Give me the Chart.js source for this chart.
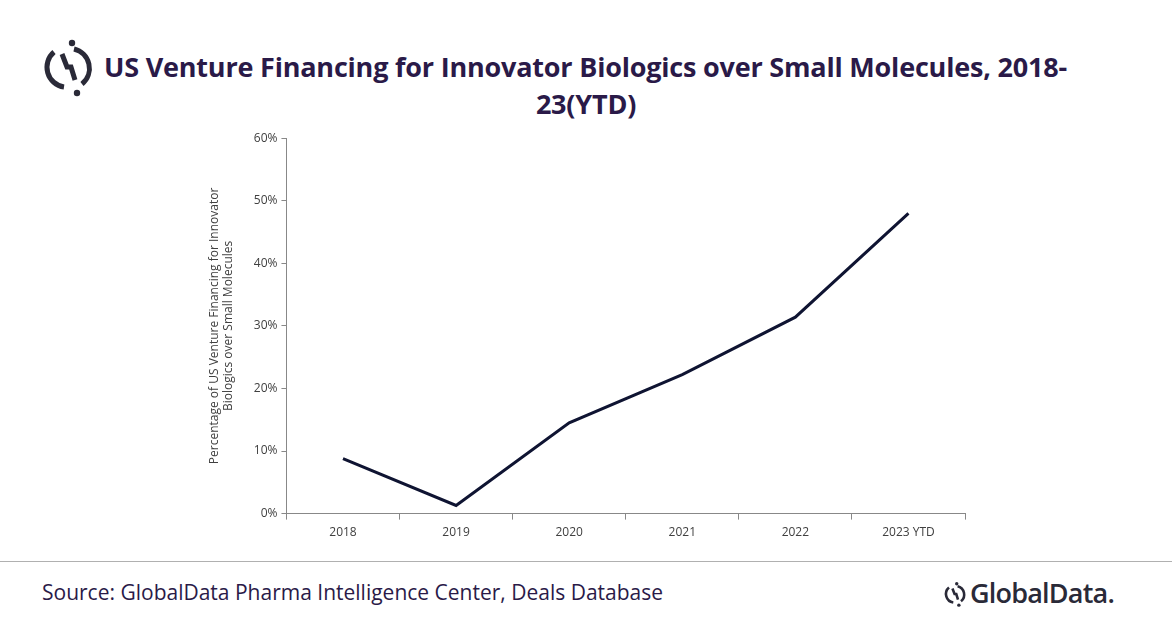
<!DOCTYPE html>
<html>
<head>
<meta charset="utf-8">
<script src="https://cdn.jsdelivr.net/npm/chart.js@4"></script>
<style>
  body { margin: 0; width: 1172px; height: 628px; background: #fff; position: relative; overflow: hidden; font-family: "Open Sans", sans-serif; }
  #title { position: absolute; left: 96px; top: 48px; width: 980px; text-align: center; font-weight: 700; font-size: 27px; line-height: 37px; color: #2a1a48; letter-spacing: -0.2px; }
  #title .l1 { display: block; text-align: left; padding-left: 8px; }
  #logo { position: absolute; left: 40px; top: 36px; }
  #wrap { position: absolute; left: 193px; top: 127px; width: 782px; height: 419px; }
  #rule { position: absolute; left: 0; top: 561px; width: 1172px; height: 1px; background: #b0b0b0; }
  #source { position: absolute; left: 42px; top: 578px; font-size: 21px; color: #2a1a48; }
  #brand { position: absolute; left: 943px; top: 574px; font-size: 27px; font-weight: 600; color: #2a2a38; letter-spacing: -0.8px; }
  #brand svg { vertical-align: middle; margin-right: 3px; margin-top: -4px; }
</style>
</head>
<body>
<svg id="logo" width="56" height="62" viewBox="0 0 56 62">
  <circle cx="32" cy="7" r="3.2" fill="#2a2a38"/>
  <circle cx="37" cy="57" r="3.2" fill="#2a2a38"/>
  <path d="M14 16 A20 20 0 0 0 24 51" stroke="#2a2a38" stroke-width="5" fill="none"/>
  <path d="M34 13 A20 20 0 0 1 42 48" stroke="#2a2a38" stroke-width="5" fill="none"/>
  <path d="M22 18 L27 31 L31 31 L35 44" stroke="#2a2a38" stroke-width="5" fill="none"/>
</svg>
<div id="title"><span class="l1">US Venture Financing for Innovator Biologics over Small Molecules, 2018-</span>23(YTD)</div>
<div id="wrap"><canvas id="c"></canvas></div>
<div id="rule"></div>
<div id="source">Source: GlobalData Pharma Intelligence Center, Deals Database</div>
<div id="brand"><svg width="24" height="30" viewBox="0 0 56 62">
  <circle cx="32" cy="7" r="4" fill="#2a2a38"/>
  <circle cx="37" cy="57" r="4" fill="#2a2a38"/>
  <path d="M14 16 A20 20 0 0 0 24 51" stroke="#2a2a38" stroke-width="6" fill="none"/>
  <path d="M34 13 A20 20 0 0 1 42 48" stroke="#2a2a38" stroke-width="6" fill="none"/>
  <path d="M22 18 L27 31 L31 31 L35 44" stroke="#2a2a38" stroke-width="6" fill="none"/>
</svg>GlobalData.</div>
<script>
const years = ['2018', '2019', '2020', '2021', '2022', '2023 YTD'];
const shareValues = [8.8, 1.3, 14.5, 22.2, 31.4, 48.0];
const yTitle = ['Percentage of US Venture Financing for Innovator', 'Biologics over Small Molecules'];

const tickFont = { family: 'Open Sans', size: 12 };
new Chart(document.getElementById('c'), {
  type: 'line',
  data: {
    labels: years,
    datasets: [{
      data: shareValues,
      borderColor: '#0f1432',
      borderWidth: 3,
      pointRadius: 0,
      tension: 0,
      fill: false
    }]
  },
  options: {
    responsive: true,
    maintainAspectRatio: false,
    animation: false,
    layout: { padding: { top: 4, right: 10, bottom: 0, left: 0 } },
    plugins: { legend: { display: false }, tooltip: { enabled: false } },
    scales: {
      x: {
        offset: true,
        grid: { offset: true, drawOnChartArea: false, tickLength: 6, color: '#888' },
        border: { color: '#888' },
        ticks: { color: '#404040', font: tickFont, padding: 6 }
      },
      y: {
        min: 0, max: 60,
        grid: { drawOnChartArea: false, tickLength: 5, color: '#888' },
        border: { color: '#888' },
        ticks: { stepSize: 10, color: '#404040', font: tickFont, padding: 4, callback: v => v + '%' },
        title: { display: true, text: yTitle, color: '#404040', font: { family: 'Open Sans', size: 12 }, padding: 14 }
      }
    }
  }
});
</script>
</body>
</html>
